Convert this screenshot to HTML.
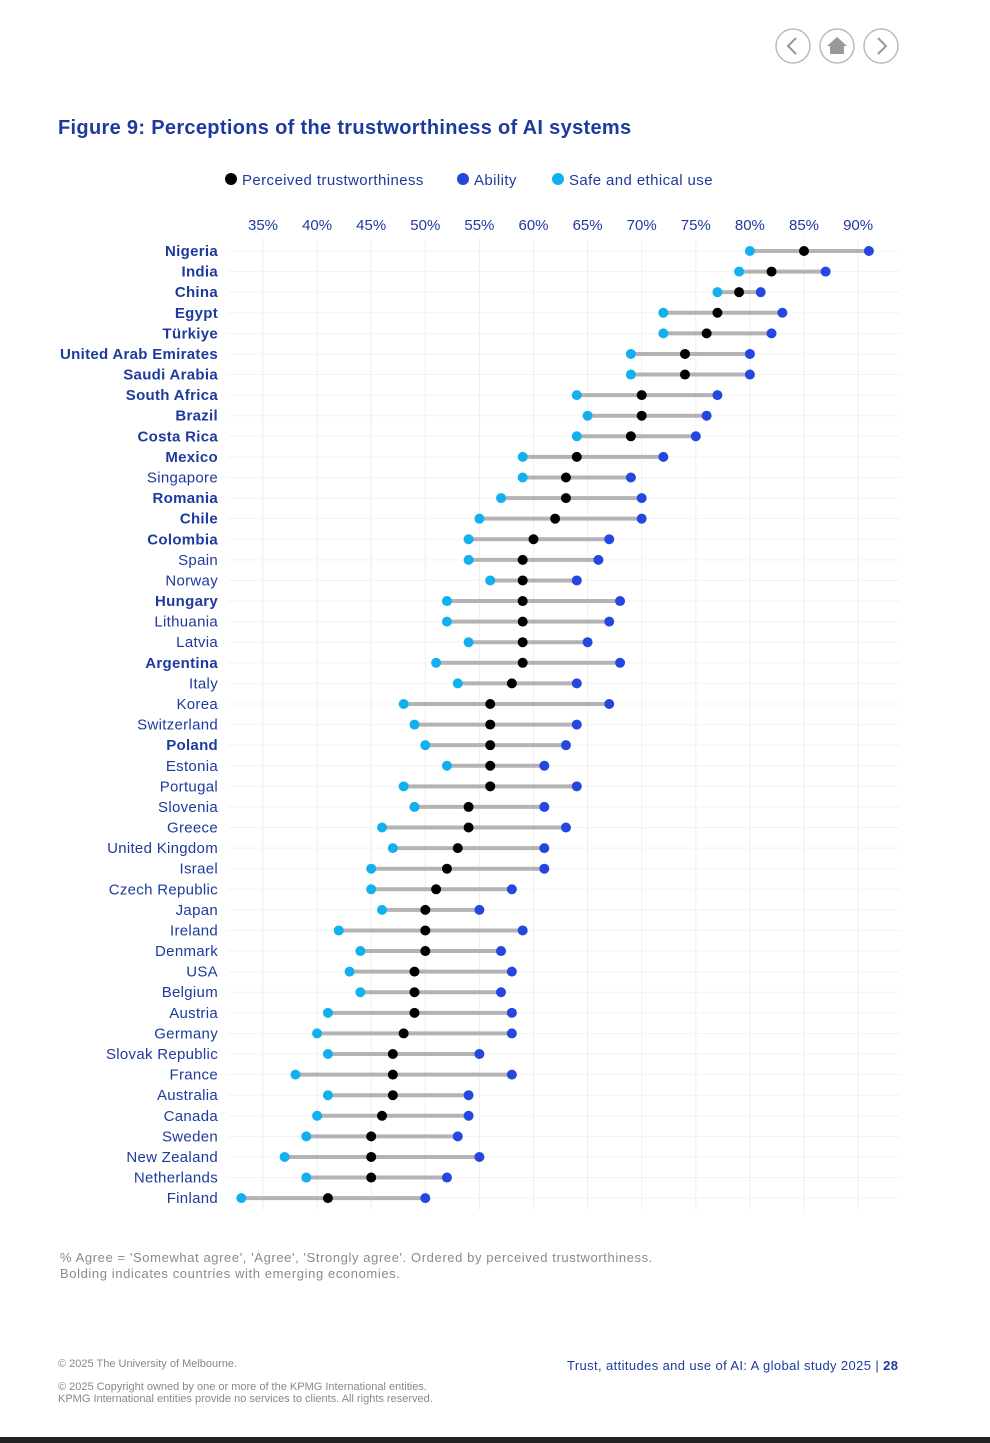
<!DOCTYPE html>
<html><head><meta charset="utf-8"><style>
body{margin:0;width:990px;height:1443px;background:#fff;font-family:"Liberation Sans",sans-serif;position:relative;overflow:hidden}
.t{position:absolute;white-space:nowrap}
</style></head><body>
<svg style="position:absolute;left:770px;top:25px" width="140" height="45">
<g><circle cx="23" cy="21" r="17" fill="none" stroke="#bbb" stroke-width="1.5"/><path d="M26 13 L18 21 L26 29" fill="none" stroke="#999" stroke-width="2"/></g>
<g><circle cx="67" cy="21" r="17" fill="none" stroke="#bbb" stroke-width="1.5"/><path d="M57 21 L67 12 L77 21 L74 21 L74 29 L60 29 L60 21 Z" fill="#999"/></g>
<g><circle cx="111" cy="21" r="17" fill="none" stroke="#bbb" stroke-width="1.5"/><path d="M108 13 L116 21 L108 29" fill="none" stroke="#999" stroke-width="2"/></g>
</svg>
<div class="t" style="left:58px;top:117px;font-size:20px;font-weight:bold;color:#1e3a9e;letter-spacing:0.32px">Figure 9: Perceptions of the trustworthiness of AI systems</div>
<svg id="chart" style="position:absolute;left:0;top:0" width="990" height="1230"></svg>
<div class="t" style="left:60px;top:1250px;font-size:13px;color:#8a8a8a;line-height:16px;letter-spacing:0.6px">% Agree = 'Somewhat agree', 'Agree', 'Strongly agree'. Ordered by perceived trustworthiness.<br>Bolding indicates countries with emerging economies.</div>
<div class="t" style="left:58px;top:1358px;font-size:11px;color:#888">© 2025 The University of Melbourne.</div>
<div class="t" style="left:58px;top:1381px;font-size:11px;color:#888;line-height:12px">© 2025 Copyright owned by one or more of the KPMG International entities.<br>KPMG International entities provide no services to clients. All rights reserved.</div>
<div class="t" style="left:567px;top:1358px;font-size:13px;color:#1e3a9e;letter-spacing:0.38px">Trust, attitudes and use of AI: A global study 2025 | <b>28</b></div>
<div style="position:absolute;left:0;top:1437px;width:990px;height:6px;background:#222"></div>
<script>
const countries=["Nigeria","India","China","Egypt","Türkiye","United Arab Emirates","Saudi Arabia","South Africa","Brazil","Costa Rica","Mexico","Singapore","Romania","Chile","Colombia","Spain","Norway","Hungary","Lithuania","Latvia","Argentina","Italy","Korea","Switzerland","Poland","Estonia","Portugal","Slovenia","Greece","United Kingdom","Israel","Czech Republic","Japan","Ireland","Denmark","USA","Belgium","Austria","Germany","Slovak Republic","France","Australia","Canada","Sweden","New Zealand","Netherlands","Finland"];
const emerging=["Nigeria","India","China","Egypt","Türkiye","United Arab Emirates","Saudi Arabia","South Africa","Brazil","Costa Rica","Mexico","Romania","Chile","Colombia","Hungary","Argentina","Poland"];
const trust=[85,82,79,77,76,74,74,70,70,69,64,63,63,62,60,59,59,59,59,59,59,58,56,56,56,56,56,54,54,53,52,51,50,50,50,49,49,49,48,47,47,47,46,45,45,45,41];
const ability=[91,87,81,83,82,80,80,77,76,75,72,69,70,70,67,66,64,68,67,65,68,64,67,64,63,61,64,61,63,61,61,58,55,59,57,58,57,58,58,55,58,54,54,53,55,52,50];
const safe=[80,79,77,72,72,69,69,64,65,64,59,59,57,55,54,54,56,52,52,54,51,53,48,49,50,52,48,49,46,47,45,45,46,42,44,43,44,41,40,41,38,41,40,39,37,39,33];
const ticks=[35,40,45,50,55,60,65,70,75,80,85,90];
const svg=document.getElementById('chart');const NS="http://www.w3.org/2000/svg";
const x=v=>263+(v-35)*10.82;const y=i=>251+i*20.59;
function mk(t,a){const e=document.createElementNS(NS,t);for(const k in a)e.setAttribute(k,a[k]);svg.appendChild(e);return e;}
const leg=[["Perceived trustworthiness","#000",231],["Ability","#2646e0",463],["Safe and ethical use","#12b0ee",558]];
leg.forEach(l=>{const c=mk('circle',{cx:l[2],cy:179,r:6,fill:l[1]});


const t=mk('text',{x:l[2]+11,y:185,'font-size':15,fill:'#1e3a9e','letter-spacing':0.4});t.textContent=l[0];

});
ticks.forEach(v=>{const g=mk('line',{x1:x(v),x2:x(v),y1:238,y2:1210,stroke:'#eee','stroke-width':1});


const t=mk('text',{x:x(v),y:230,'font-size':15,fill:'#1e3a9e','text-anchor':'middle'});t.textContent=v+'%';

});
countries.forEach((c,i)=>{
const h=mk('line',{x1:228,x2:900,y1:y(i),y2:y(i),stroke:'#f3f3f3','stroke-width':1});


const t=mk('text',{x:218,y:y(i)+5,'font-size':15,fill:'#1e3a9e','text-anchor':'end','letter-spacing':0.3,'font-weight':emerging.includes(c)?'bold':'normal'});t.textContent=c;


const lo=Math.min(trust[i],ability[i],safe[i]),hi=Math.max(trust[i],ability[i],safe[i]);
const b=mk('line',{x1:x(lo),x2:x(hi),y1:y(i),y2:y(i),stroke:'#b3b3b3','stroke-width':4});


const s=mk('circle',{cx:x(safe[i]),cy:y(i),r:5,fill:'#12b0ee'});


const a=mk('circle',{cx:x(ability[i]),cy:y(i),r:5,fill:'#2646e0'});


const p=mk('circle',{cx:x(trust[i]),cy:y(i),r:5,fill:'#000'});


});
</script>
</body></html>
